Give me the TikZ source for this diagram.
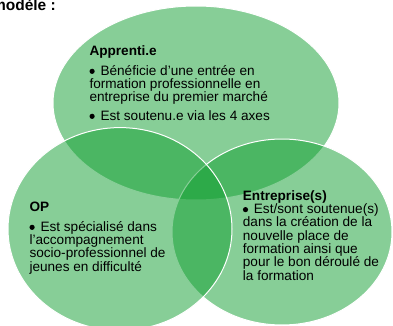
\documentclass[tikz,border=0pt]{standalone}
\usepackage{fontspec}
\setmainfont{Liberation Sans}
\definecolor{venn}{RGB}{17,159,49}
\newcommand\bul{\makebox[11pt][l]{\tikz[baseline=0pt]\fill[black] (2.7pt,3.9pt) circle[radius=2.6pt];}}
\newcommand\tp{\rule{0pt}{10pt}}
\begin{document}
\begin{tikzpicture}[x=1pt,y=-1pt,
  circ/.style={fill=venn, fill opacity=0.5, draw=white, draw opacity=1, line width=1pt},
  txt/.style={anchor=north west, inner sep=0pt, align=left, text=black,
    font=\fontsize{13.6}{13.33}\selectfont}]
\useasboundingbox (0,0) rectangle (393,326);
\clip (0,0) rectangle (393,326);
\fill[white] (0,0) rectangle (393,326);
% ellipses
\path[circ] (196,103) ellipse [x radius=143, y radius=97];
\path[circ] (282,232) ellipse [x radius=110, y radius=93];
\path[circ] (120,229) ellipse [x radius=112, y radius=101.4];
% title
\node[anchor=base east, inner sep=0pt, font=\fontsize{15.5}{15.5}\selectfont\bfseries] (title) at (56,10.5) {modèle :};
% texts
\node[txt] (app) at (89.3,45) {\tp\textbf{Apprenti.e}\\[6.7pt]
\bul Bénéficie d’une entrée en\\
formation professionnelle en\\
entreprise du premier marché\\[5pt]
\bul Est soutenu.e via les 4 axes};
\node[txt] (op) at (29.3,201.7) {\tp\textbf{OP}\\[6pt]
\bul Est spécialisé dans\\
l’accompagnement\\
socio-professionnel de\\
jeunes en difficulté};
\node[txt] (ent) at (242.7,190) {\tp\textbf{Entreprise(s)}\\
\bul Est/sont soutenue(s)\\
dans la création de la\\
nouvelle place de\\
formation ainsi que\\
pour le bon déroulé de\\
la formation};
\end{tikzpicture}
\end{document}
